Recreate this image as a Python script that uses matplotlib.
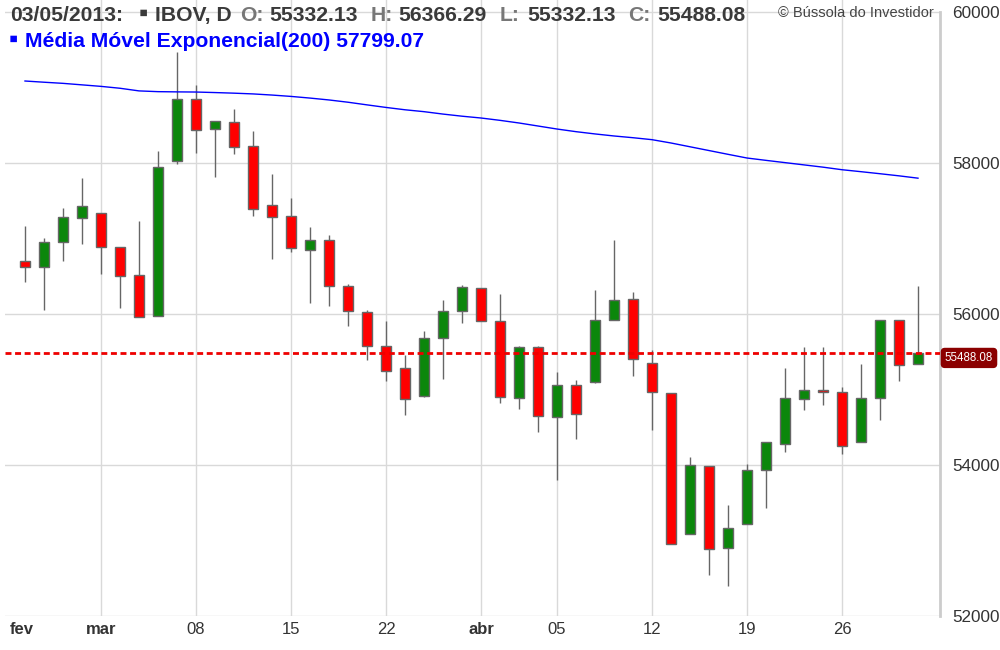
import matplotlib
matplotlib.use('Agg')
from matplotlib import pyplot as plt
from matplotlib import transforms

plt.rcParams['font.family'] = ['Liberation Sans', 'DejaVu Sans']
plt.rcParams['lines.scale_dashes'] = False

# Daily IBOV candles, 25/02/2013 - 03/05/2013.
dates = ['2013-02-25', '2013-02-26', '2013-02-27', '2013-02-28',
         '2013-03-01', '2013-03-04', '2013-03-05', '2013-03-06', '2013-03-07', '2013-03-08',
         '2013-03-11', '2013-03-12', '2013-03-13', '2013-03-14', '2013-03-15',
         '2013-03-18', '2013-03-19', '2013-03-20', '2013-03-21', '2013-03-22',
         '2013-03-25', '2013-03-26', '2013-03-27', '2013-03-28',
         '2013-04-01', '2013-04-02', '2013-04-03', '2013-04-04', '2013-04-05',
         '2013-04-08', '2013-04-09', '2013-04-10', '2013-04-11', '2013-04-12',
         '2013-04-15', '2013-04-16', '2013-04-17', '2013-04-18', '2013-04-19',
         '2013-04-22', '2013-04-23', '2013-04-24', '2013-04-25', '2013-04-26',
         '2013-04-29', '2013-04-30', '2013-05-02', '2013-05-03']

opens = [56706, 56623, 56954, 57271, 57338, 56887, 56517, 55974, 58027, 58848,
         58450, 58543, 58220, 57448, 57298, 56848, 56980, 56371, 56030, 55576,
         55285, 54914, 55682, 56040, 56344, 55907, 54891, 55563, 54636, 55060,
         55099, 55921, 56199, 55351, 54954, 53090, 53982, 52901, 53223, 53938,
         54278, 54874, 54988, 54962, 54305, 54887, 55915, 55332.13]
highs = [57160, 57007, 57404, 57801, 57338, 56887, 57236, 58154, 59470, 59037,
         58560, 58715, 58419, 57858, 57536, 57152, 57041, 56401, 56053, 55902,
         55457, 55770, 56185, 56384, 56344, 56265, 55580, 55580, 55232, 55130,
         56313, 56984, 56286, 55527, 54954, 54106, 53982, 53474, 54017, 54299,
         55285, 55558, 55558, 55033, 55342, 55915, 55915, 56366.29]
lows = [56424, 56057, 56697, 56931, 56534, 56079, 55960, 55974, 57990, 58132,
        57815, 58119, 57293, 56728, 56816, 56146, 56101, 55836, 55385, 55107,
        54657, 54905, 55139, 55881, 55907, 54816, 54746, 54437, 53805, 54344,
        55090, 55921, 55183, 54468, 52958, 53090, 52547, 52392, 53223, 53430,
        54172, 54723, 54799, 54150, 54305, 54591, 55107, 55332.13]
closes = [56623, 56954, 57285, 57434, 56887, 56503, 55960, 57947, 58848, 58441,
          58560, 58212, 57391, 57285, 56874, 56980, 56371, 56034, 55571, 55240,
          54874, 55682, 56040, 56358, 55907, 54901, 55563, 54649, 55060, 54676,
          55921, 56189, 55404, 54967, 52958, 54000, 52887, 53166, 53928, 54299,
          54887, 54988, 54967, 54246, 54887, 55915, 55328, 55488.08]
ema200 = [59086, 59070, 59055, 59035, 59015, 58990, 58955, 58945, 58942, 58940,
          58933, 58925, 58915, 58900, 58882, 58860, 58835, 58805, 58770, 58736,
          58705, 58680, 58648, 58620, 58596, 58565, 58530, 58490, 58450, 58415,
          58385, 58358, 58335, 58309, 58265, 58215, 58165, 58115, 58066, 58035,
          58005, 57975, 57945, 57911, 57885, 57858, 57830, 57799.07]

tick_dates = ['2013-03-01', '2013-03-08', '2013-03-15', '2013-03-22', '2013-04-01',
              '2013-04-05', '2013-04-12', '2013-04-19', '2013-04-26']
tick_labels = ['mar', '08', '15', '22', 'abr', '05', '12', '19', '26']
month_labels = ['mar', 'abr']
y_ticks = [52000, 54000, 56000, 58000, 60000]

green = '#0b870b'
red = '#ff0000'
edge = '#666666'
grid_c = '#d9d9d9'
text_c = '#333333'

fig = plt.figure(figsize=(10, 6.5), dpi=100)
ax = fig.add_axes([5 / 1000, 34 / 650, 935 / 1000, 616 / 650])

x = list(range(len(dates)))
ax.set_xlim(-20 / 19, 915 / 19)
ax.set_ylim(52000, 60159)

# candles
for i in x:
    o, h, l, c = opens[i], highs[i], lows[i], closes[i]
    col = green if c >= o else red
    ax.vlines(i, l, h, color=edge, lw=1, zorder=3)
    ax.bar(i, max(abs(c - o), 12), bottom=min(o, c), width=0.53, color=col,
           edgecolor=edge, linewidth=1, zorder=4)

ax.plot(x, ema200, color='#0000ff', lw=1, zorder=5)

last = closes[-1]
ax.axhline(last, color='#ee0000', lw=2, dashes=[4.3, 2.6], zorder=6)
trans = transforms.blended_transform_factory(ax.transAxes, ax.transData)
ax.text(1.031, last - 70, f'{last:.2f}', transform=trans, ha='center', va='center',
        fontsize=8.3, color='white', clip_on=False,
        bbox=dict(boxstyle='round,pad=0.3,rounding_size=0.3', fc='#8b0000', ec='#8b0000'))

# axes formatting
tick_pos = [dates.index(d) for d in tick_dates]
ax.set_xticks(tick_pos)
ax.set_xticklabels(tick_labels)
for lab in ax.get_xticklabels():
    if lab.get_text() in month_labels:
        lab.set_fontweight('bold')
ax.annotate('fev', xy=(-0.16, 0), xycoords=transforms.blended_transform_factory(ax.transData, ax.transAxes),
            xytext=(0, -4.5), textcoords='offset points', ha='center', va='top',
            fontsize=12, fontweight='bold', color=text_c, annotation_clip=False)
ax.set_yticks(y_ticks)
ax.set_yticklabels([str(v) for v in y_ticks])
ax.yaxis.tick_right()
ax.tick_params(axis='x', length=0, pad=4.5, labelsize=12, labelcolor=text_c)
ax.tick_params(axis='y', length=0, pad=9, labelsize=12.3, labelcolor=text_c)
ax.grid(True, color=grid_c, lw=1, zorder=0)
ax.set_axisbelow(True)
for s in ['left', 'top', 'bottom']:
    ax.spines[s].set_visible(False)
ax.spines['right'].set_color('#cccccc')
ax.spines['right'].set_linewidth(2)
ax.spines['right'].set_bounds(52000, 60000)


# header
def put(xpix, ypix, s, color, size=15.2, weight='bold'):
    fig.text(xpix / 1000, 1 - ypix / 650, s, color=color, fontsize=size,
             fontweight=weight, ha='left', va='baseline')


dark = '#3a3a3a'
gray = '#777777'
put(10, 21, '03/05/2013:', dark)
put(139, 21, '\u25aa', dark, size=19)
put(155, 21, 'IBOV, D', dark)
for lx, lab, vx, val in [(240, 'O:', 269, '55332.13'), (371, 'H:', 398, '56366.29'),
                         (500, 'L:', 527, '55332.13'), (628, 'C:', 657, '55488.08')]:
    put(lx, 21, lab, gray)
    put(vx, 21, val, dark)
put(9, 47, '\u25aa', '#0000ff', size=19)
put(25, 47, 'Média Móvel Exponencial(200) 57799.07', '#0000ff')
put(778, 17, '© Bússola do Investidor', '#444444', size=10.5, weight='normal')

fig.savefig('out.png', dpi=100)
